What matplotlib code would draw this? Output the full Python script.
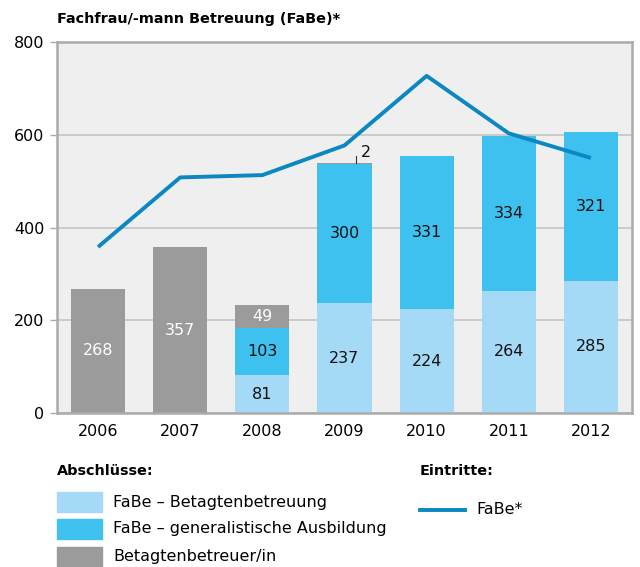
import matplotlib
matplotlib.use("Agg")
import matplotlib.pyplot as plt
from matplotlib.patches import Rectangle
from matplotlib.lines import Line2D

plt.rcParams['font.family'] = ['DejaVu Sans']

years = ["2006", "2007", "2008", "2009", "2010", "2011", "2012"]
betagten = [0, 0, 81, 237, 224, 264, 285]
generalist = [0, 0, 103, 300, 331, 334, 321]
betreuer = [268, 357, 49, 2, 0, 0, 0]
eintritte = [358, 508, 513, 577, 727, 603, 550]
yticks = [0, 200, 400, 600, 800]

c_light = "#a4daf6"
c_mid = "#3fc1f0"
c_gray = "#9b9b9b"
c_line = "#0b87c1"
c_bg = "#efefef"
c_frame = "#ababab"

fig = plt.figure(figsize=(6.4, 5.67), dpi=100)
ax = fig.add_axes([57/640, 1-413/567, (632-57)/640, (413-42)/567])
ax.set_facecolor(c_bg)
x = list(range(len(years)))
w = 0.66
fs = 11.5
fsb = 10.4

ax.bar(x, betagten, w, color=c_light, zorder=2)
ax.bar(x, generalist, w, bottom=betagten, color=c_mid, zorder=2)
bot3 = [a + b for a, b in zip(betagten, generalist)]
ax.bar(x, betreuer, w, bottom=bot3, color=c_gray, zorder=2)

for i in x:
    if betagten[i] > 0:
        ax.text(i, betagten[i] / 2, str(betagten[i]), ha="center", va="center", fontsize=fs, color="#111111", zorder=4)
    if generalist[i] > 0:
        ax.text(i, betagten[i] + generalist[i] / 2, str(generalist[i]), ha="center", va="center", fontsize=fs, color="#111111", zorder=4)
    if betreuer[i] > 20:
        ax.text(i, bot3[i] + betreuer[i] / 2, str(betreuer[i]), ha="center", va="center", fontsize=fs, color="white", zorder=4)
    elif betreuer[i] > 0:
        top = bot3[i] + betreuer[i]
        ax.plot([i + 0.14, i + 0.14], [top, top + 15], color="#333333", lw=0.8, zorder=4)
        ax.text(i + 0.2, top + 6, str(betreuer[i]), ha="left", va="bottom", fontsize=fs, color="#111111", zorder=4)

ax.plot(x, eintritte, color=c_line, lw=2.8, zorder=3, solid_capstyle="butt")

ax.set_xlim(-0.5, len(years) - 0.5)
ax.set_ylim(0, 800)
ax.set_yticks(yticks)
ax.set_yticklabels([str(v) for v in yticks], fontsize=fs)
ax.set_xticks(x)
ax.set_xticklabels(years, fontsize=fs)
ax.tick_params(axis="x", length=0, pad=8)
ax.tick_params(axis="y", length=5, color=c_frame, width=1, pad=4)
ax.yaxis.grid(True, color="#c4c4c4", lw=1.2, zorder=1)
ax.set_axisbelow(True)
for s in ax.spines.values():
    s.set_color(c_frame)
    s.set_linewidth(1.8)

fig.text(57/640, 1-19/567, "Fachfrau/-mann Betreuung (FaBe)*", fontsize=fsb, fontweight="bold", va="center", ha="left")

# legend
fig.text(57/640, 1-471/567, "Abschlüsse:", fontsize=fsb, fontweight="bold", va="center", ha="left")
fig.text(420/640, 1-471/567, "Eintritte:", fontsize=fsb, fontweight="bold", va="center", ha="left")
items = [(c_light, "FaBe – Betagtenbetreuung", 502),
         (c_mid, "FaBe – generalistische Ausbildung", 528.5),
         (c_gray, "Betagtenbetreuer/in", 557)]
for col, lab, yc in items:
    fig.add_artist(Rectangle((57/640, 1-(yc+10)/567), 45/640, 20/567, transform=fig.transFigure, color=col))
    fig.text(113/640, 1-yc/567, lab, fontsize=fs, va="center", ha="left")
fig.add_artist(Line2D([420/640, 465/640], [1-510/567, 1-510/567], transform=fig.transFigure, color=c_line, lw=2.8))
fig.text(476/640, 1-510/567, "FaBe*", fontsize=fs, va="center", ha="left")

fig.savefig("out.png", dpi=100)
